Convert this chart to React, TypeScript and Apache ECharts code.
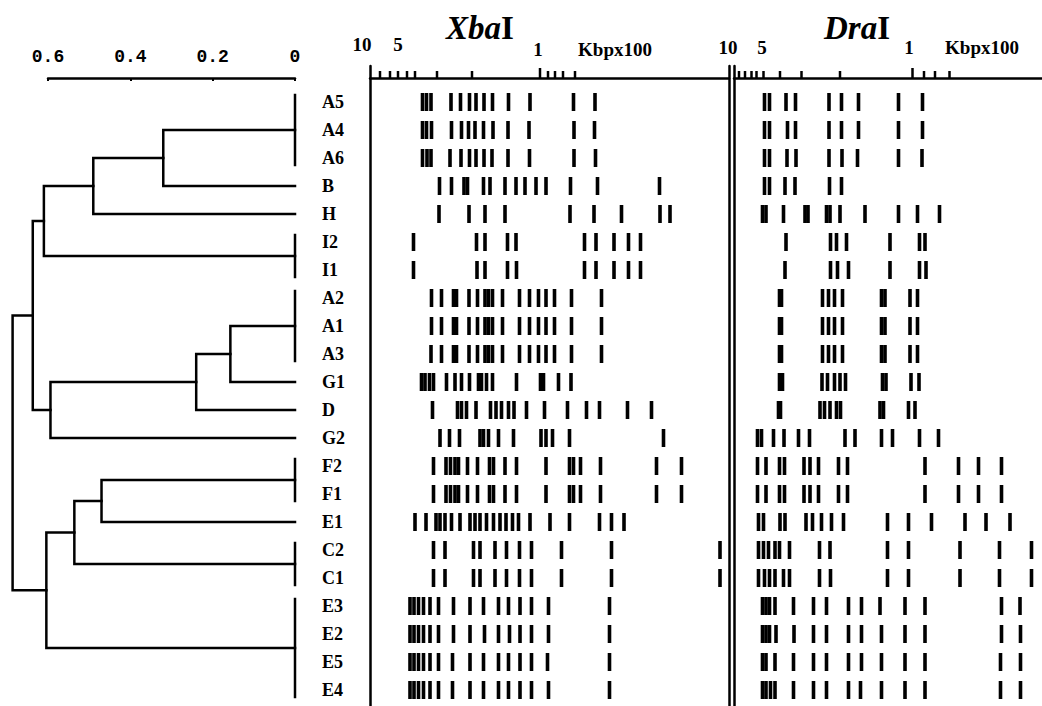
import React, { useEffect, useRef } from 'react';
import * as echarts from 'echarts';

// ---------- data ----------
const STRAINS = ['A5', 'A4', 'A6', 'B', 'H', 'I2', 'I1', 'A2', 'A1', 'A3', 'G1', 'D', 'G2', 'F2', 'F1', 'E1', 'C2', 'C1', 'E3', 'E2', 'E5', 'E4'];

// groups of identical profiles (distance 0)
const GROUP_IDS = ['gA', 'gI', 'gA2', 'gF', 'gC', 'gE'];
const GROUP_MEMBERS = [['A5', 'A4', 'A6'], ['I2', 'I1'], ['A2', 'A1', 'A3'], ['F2', 'F1'], ['C2', 'C1'], ['E3', 'E2', 'E5', 'E4']];

// agglomeration steps
const MERGE_IDS = ['n1', 'n2', 'n3', 'n4', 'n5', 'n6', 'n7', 'n8', 'n9', 'n10', 'root'];
const MERGE_LEFT = ['gA', 'n1', 'n2', 'gA2', 'n4', 'n5', 'n3', 'gF', 'n8', 'n9', 'n7'];
const MERGE_RIGHT = ['B', 'H', 'gI', 'G1', 'D', 'G2', 'n6', 'E1', 'gC', 'gE', 'n10'];
const MERGE_DIST = [0.32, 0.49, 0.61, 0.157, 0.24, 0.594, 0.637, 0.47, 0.536, 0.604, 0.686];

// gel lanes: band migration distance (mm from the well), one array per strain (same order as STRAINS)
const XBA_MAX = 71.8;
const XBA_BANDS: number[][] = [
  [10.5, 11.3, 12.2, 16.2, 18.1, 19.9, 21.2, 22.8, 24.5, 27.7, 32.0, 40.7, 45.0],
  [10.5, 11.3, 12.3, 16.3, 18.3, 19.7, 21.0, 22.7, 24.6, 27.6, 31.8, 40.8, 44.9],
  [10.5, 11.4, 12.2, 16.0, 18.2, 19.9, 21.2, 22.8, 24.4, 27.6, 31.9, 40.8, 45.1],
  [13.9, 16.3, 18.8, 19.5, 22.7, 24.0, 27.0, 29.2, 31.0, 33.2, 35.2, 40.1, 45.5, 57.9],
  [13.8, 19.8, 23.0, 27.0, 40.0, 44.8, 50.3, 58.0, 60.0],
  [8.7, 21.3, 23.0, 27.5, 29.2, 42.9, 45.2, 48.8, 51.7, 54.1],
  [8.7, 21.4, 23.0, 27.5, 29.3, 42.9, 45.2, 48.8, 51.7, 54.1],
  [12.3, 14.3, 16.7, 17.3, 19.8, 21.5, 23.0, 23.7, 24.5, 26.5, 29.9, 31.9, 33.7, 35.2, 36.9, 40.3, 46.3],
  [12.3, 14.3, 16.7, 17.3, 19.8, 21.5, 23.0, 23.7, 24.5, 26.5, 29.9, 31.9, 33.7, 35.2, 36.9, 40.3, 46.3],
  [12.2, 14.3, 16.7, 17.3, 19.8, 21.5, 23.0, 23.7, 24.5, 26.5, 29.9, 31.9, 33.7, 35.2, 36.9, 40.3, 46.3],
  [10.3, 11.0, 11.9, 12.7, 15.3, 17.0, 18.3, 19.9, 21.7, 22.3, 23.3, 24.5, 29.3, 34.1, 34.7, 37.7, 40.2],
  [12.5, 17.5, 18.3, 19.3, 21.2, 24.1, 25.2, 26.3, 27.7, 28.8, 31.3, 34.9, 39.5, 43.3, 45.9, 51.5, 56.3],
  [14.0, 15.9, 17.9, 22.0, 22.7, 23.7, 25.7, 28.7, 34.2, 35.2, 36.5, 39.9, 58.7],
  [12.7, 15.2, 16.1, 17.0, 17.7, 19.5, 21.5, 23.9, 24.7, 27.0, 29.3, 35.2, 39.9, 40.7, 42.1, 46.1, 57.3, 62.3],
  [12.7, 15.2, 16.1, 17.0, 17.7, 19.5, 21.5, 23.9, 24.7, 27.0, 29.3, 35.2, 39.9, 40.7, 42.1, 46.1, 57.3, 62.3],
  [9.0, 11.2, 13.2, 14.0, 15.0, 16.3, 18.0, 20.0, 21.0, 22.0, 23.3, 24.7, 26.0, 27.2, 28.5, 29.7, 32.0, 36.0, 39.9, 45.9, 48.3, 50.8],
  [12.7, 15.0, 20.7, 22.0, 25.0, 27.3, 29.9, 32.3, 38.3, 48.3, 70.0],
  [12.7, 15.0, 20.7, 22.0, 25.0, 27.3, 29.9, 32.3, 38.3, 48.3, 70.0],
  [8.0, 8.8, 9.7, 10.7, 12.0, 13.7, 16.7, 20.0, 22.7, 25.7, 27.7, 30.0, 32.3, 35.7, 47.9],
  [8.0, 8.8, 9.7, 10.7, 12.0, 13.7, 16.7, 20.0, 22.9, 25.7, 27.9, 30.0, 32.3, 35.7, 47.9],
  [8.0, 8.8, 9.7, 10.7, 12.0, 13.7, 16.5, 20.0, 22.7, 25.7, 27.7, 30.0, 32.3, 35.5, 47.9],
  [8.0, 8.8, 9.7, 10.7, 12.0, 13.7, 16.5, 20.0, 22.7, 25.7, 27.7, 30.0, 32.3, 35.7, 47.9],
];

const DRA_MAX = 61.6;
const DRA_BANDS: number[][] = [
  [6.1, 7.1, 10.4, 12.3, 19.0, 21.5, 24.9, 32.9, 37.7],
  [6.1, 7.1, 10.7, 12.3, 19.0, 21.5, 24.9, 32.9, 37.7],
  [6.1, 7.1, 10.6, 12.4, 19.0, 21.6, 24.7, 32.9, 37.6],
  [6.1, 7.1, 10.2, 12.2, 19.1, 21.5],
  [5.7, 6.4, 9.9, 14.2, 14.8, 18.5, 19.2, 21.2, 26.2, 32.9, 36.7, 41.1],
  [10.4, 19.3, 20.5, 22.5, 31.2, 37.1, 38.2],
  [10.2, 19.3, 20.7, 22.9, 31.2, 37.1, 38.4],
  [9.1, 9.5, 17.7, 18.9, 20.1, 21.7, 29.5, 30.2, 35.2, 36.7],
  [9.1, 9.5, 17.7, 18.9, 20.1, 21.7, 29.5, 30.2, 35.2, 36.7],
  [9.1, 9.5, 17.7, 18.9, 20.1, 21.7, 29.5, 30.2, 35.2, 36.7],
  [9.1, 9.7, 17.6, 18.7, 20.1, 21.2, 22.3, 29.7, 30.4, 35.4, 37.0],
  [8.9, 9.3, 17.2, 18.1, 19.2, 20.5, 21.3, 29.2, 29.9, 34.9, 36.2],
  [4.7, 5.5, 7.9, 10.0, 12.9, 15.1, 22.2, 24.2, 29.5, 31.7, 37.1, 40.9],
  [4.7, 6.4, 9.1, 10.1, 14.0, 15.2, 16.9, 20.9, 22.7, 38.2, 44.9, 48.9, 53.5],
  [4.7, 6.4, 9.1, 10.1, 14.0, 15.2, 16.9, 20.9, 22.7, 38.2, 44.9, 48.9, 53.5],
  [4.9, 5.9, 9.2, 10.2, 14.4, 15.7, 17.5, 19.5, 21.9, 30.7, 34.9, 39.5, 46.2, 50.4, 55.2],
  [4.9, 5.9, 6.9, 8.2, 9.1, 11.1, 17.1, 19.2, 30.7, 34.9, 45.2, 53.1, 59.5],
  [4.9, 6.1, 7.1, 8.2, 9.9, 11.1, 17.1, 19.3, 30.7, 34.9, 45.2, 53.1, 59.5],
  [5.7, 6.4, 7.1, 8.2, 11.9, 15.9, 18.5, 22.9, 25.5, 29.2, 34.2, 38.2, 53.5, 57.2],
  [5.7, 6.4, 7.1, 8.4, 12.0, 15.9, 18.5, 22.9, 25.5, 29.5, 34.2, 38.2, 53.5, 57.3],
  [5.7, 6.4, 8.2, 11.9, 15.9, 18.5, 22.9, 25.5, 29.5, 34.2, 38.2, 53.3, 57.3],
  [5.7, 6.4, 7.3, 8.2, 11.9, 15.9, 18.5, 22.9, 25.3, 29.5, 34.2, 38.2, 53.3, 57.3],
];

// size-marker ticks along each gel (mm) and their labels (Kbp x 100)
const XBA_TICKS = [2, 4, 5.6, 7.4, 9, 13.4, 20.4, 34, 35.6, 37, 38.6, 41];
const XBA_MAJOR = [34];
const XBA_LABELS = ['10', '5', '1', 'Kbpx100'];
const XBA_LABEL_AT = [-1.6, 5.6, 33.6, 49];
const DRA_TICKS = [1, 2.2, 3.5, 4.5, 5.9, 9.2, 13.5, 21.2, 35.7, 38, 40.2, 43.1];
const DRA_MAJOR = [35.7];
const DRA_LABELS = ['10', '5', '1', 'Kbpx100'];
const DRA_LABEL_AT = [-1.2, 5.6, 35, 49.6];

// ---------- layout ----------
const Y_MIN = -9 / 7;
const Y_MAX = 151 / 7;
const XBA_LABEL_DY = [-2, -2, 3, 3];
const DRA_LABEL_DY = [1, 1, 1, 1];
const SERIF = '"Liberation Serif", "Times New Roman", serif';
const MONO = '"Liberation Mono", "Courier New", monospace';

function buildDendrogram(): number[][] {
  const pos: Record<string, [number, number]> = {};
  STRAINS.forEach((s, i) => { pos[s] = [0, i]; });
  const segs: number[][] = [];
  GROUP_IDS.forEach((g, k) => {
    const idx = GROUP_MEMBERS[k].map((m) => STRAINS.indexOf(m));
    const lo = Math.min(...idx);
    const hi = Math.max(...idx);
    pos[g] = [0, (lo + hi) / 2];
    segs.push([0, lo - 0.25, 0, lo - 0.25, 0, hi + 0.25, 0, hi + 0.25]);
  });
  MERGE_IDS.forEach((id, k) => {
    const a = pos[MERGE_LEFT[k]];
    const b = pos[MERGE_RIGHT[k]];
    const h = MERGE_DIST[k];
    segs.push([a[0], a[1], h, a[1], h, b[1], b[0], b[1]]);
    pos[id] = [h, (a[1] + b[1]) / 2];
  });
  return segs;
}

function bandSeries(bands: number[][], xAxisIndex: number, yAxisIndex: number) {
  const data: number[][] = [];
  bands.forEach((row, r) => row.forEach((v) => data.push([v, r])));
  return {
    type: 'custom', xAxisIndex, yAxisIndex, data, clip: false, silent: true,
    renderItem: (_p: any, api: any) => {
      const c = api.coord([api.value(0), api.value(1)]);
      return { type: 'rect', shape: { x: c[0] - 1.8, y: c[1] - 9, width: 3.6, height: 18 }, style: { fill: '#000' } };
    },
  };
}

function tickSeries(ticks: number[], major: number[], xAxisIndex: number, yAxisIndex: number) {
  return {
    type: 'custom', xAxisIndex, yAxisIndex, clip: false, silent: true,
    data: ticks.map((v) => [v, Y_MIN]),
    renderItem: (_p: any, api: any) => {
      const v = api.value(0);
      const c = api.coord([v, api.value(1)]);
      const y0 = c[1] + 12;
      const len = major.indexOf(v) >= 0 ? 10 : 7;
      return { type: 'line', shape: { x1: c[0], y1: y0, x2: c[0], y2: y0 - len }, style: { stroke: '#000', lineWidth: 2.5 } };
    },
  };
}

function labelSeries(labels: string[], at: number[], dy: number[], xAxisIndex: number, yAxisIndex: number) {
  return {
    type: 'custom', xAxisIndex, yAxisIndex, clip: false, silent: true,
    data: at.map((v) => [v, Y_MIN]),
    renderItem: (p: any, api: any) => {
      const c = api.coord([api.value(0), api.value(1)]);
      const i = p.dataIndex;
      return {
        type: 'text', x: c[0], y: c[1] - 20 + dy[i],
        style: {
          text: labels[i], fill: '#000', font: `bold 19px ${SERIF}`,
          align: 'center', verticalAlign: 'middle', textAlign: 'center', textVerticalAlign: 'middle',
        },
      };
    },
  };
}

function gelXAxis(gridIndex: number, max: number) {
  return {
    gridIndex, type: 'value', min: 0, max, position: 'top', offset: -12,
    axisLine: { show: true, onZero: false, lineStyle: { color: '#000', width: 2.5 } },
    axisTick: { show: false }, axisLabel: { show: false }, splitLine: { show: false },
  };
}

function gelYAxis(gridIndex: number, position: string) {
  return {
    gridIndex, type: 'value', min: Y_MIN, max: Y_MAX, inverse: true, position,
    axisLine: { show: true, onZero: false, lineStyle: { color: '#000', width: 2.5 } },
    axisTick: { show: false }, axisLabel: { show: false }, splitLine: { show: false },
  };
}

export default function App() {
  const ref = useRef<HTMLDivElement>(null);
  useEffect(() => {
    document.body.style.margin = '0';
    if (!ref.current) return;
    const chart = echarts.init(ref.current, null, { renderer: 'svg' });
    const segs = buildDendrogram();
    const titleStyle = (fontStyle: string) => ({ fontFamily: SERIF, fontSize: 33, fontWeight: 'bold', fontStyle, color: '#000' });
    const option: any = {
      animation: false,
      backgroundColor: '#fff',
      title: [
        { text: '{i|Xba}I', left: 475, top: 6, textAlign: 'center', textStyle: { ...titleStyle('normal'), rich: { i: titleStyle('italic') } } },
        { text: '{i|Dra}I', left: 852, top: 6, textAlign: 'center', textStyle: { ...titleStyle('normal'), rich: { i: titleStyle('italic') } } },
      ],
      grid: [
        { left: 48, top: 66, width: 247, height: 640, outerBoundsMode: 'none' },
        { left: 370, top: 66, width: 359, height: 640, outerBoundsMode: 'none' },
        { left: 734, top: 66, width: 308, height: 640, outerBoundsMode: 'none' },
      ],
      xAxis: [
        {
          gridIndex: 0, type: 'value', min: 0, max: 0.6, interval: 0.2, inverse: true, position: 'top', offset: -12,
          axisLine: { show: true, onZero: false, lineStyle: { color: '#000', width: 2.5 } },
          axisTick: { show: true, inside: true, length: 3, lineStyle: { color: '#000', width: 2 } },
          axisLabel: { show: true, color: '#000', fontFamily: MONO, fontWeight: 'bold', fontSize: 18, margin: 12 },
          splitLine: { show: false },
        },
        gelXAxis(1, XBA_MAX),
        gelXAxis(2, DRA_MAX),
      ],
      yAxis: [
        { gridIndex: 0, type: 'value', min: Y_MIN, max: Y_MAX, inverse: true, show: false },
        gelYAxis(1, 'left'),
        gelYAxis(1, 'right'),
        gelYAxis(2, 'left'),
      ],
      series: [
        {
          type: 'custom', xAxisIndex: 0, yAxisIndex: 0, data: segs, clip: false, silent: true,
          renderItem: (_p: any, api: any) => {
            const pts = [0, 1, 2, 3].map((k) => api.coord([api.value(2 * k), api.value(2 * k + 1)]));
            return { type: 'polyline', shape: { points: pts }, style: { stroke: '#000', lineWidth: 2.5, fill: 'none', lineJoin: 'miter', lineCap: 'square' } };
          },
        },
        {
          type: 'custom', xAxisIndex: 0, yAxisIndex: 0, clip: false, silent: true,
          data: STRAINS.map((_s, i) => [0, i]),
          renderItem: (p: any, api: any) => {
            const c = api.coord([api.value(0), api.value(1)]);
            return {
              type: 'text', x: c[0] + 27, y: c[1],
              style: {
                text: STRAINS[p.dataIndex], fill: '#000', font: `bold 18px ${SERIF}`,
                align: 'left', verticalAlign: 'middle', textAlign: 'left', textVerticalAlign: 'middle',
              },
            };
          },
        },
        bandSeries(XBA_BANDS, 1, 1),
        tickSeries(XBA_TICKS, XBA_MAJOR, 1, 1),
        labelSeries(XBA_LABELS, XBA_LABEL_AT, XBA_LABEL_DY, 1, 1),
        bandSeries(DRA_BANDS, 2, 3),
        tickSeries(DRA_TICKS, DRA_MAJOR, 2, 3),
        labelSeries(DRA_LABELS, DRA_LABEL_AT, DRA_LABEL_DY, 2, 3),
      ],
    };
    chart.setOption(option);
    return () => chart.dispose();
  }, []);
  return <div ref={ref} style={{ width: 1042, height: 706 }} />;
}
